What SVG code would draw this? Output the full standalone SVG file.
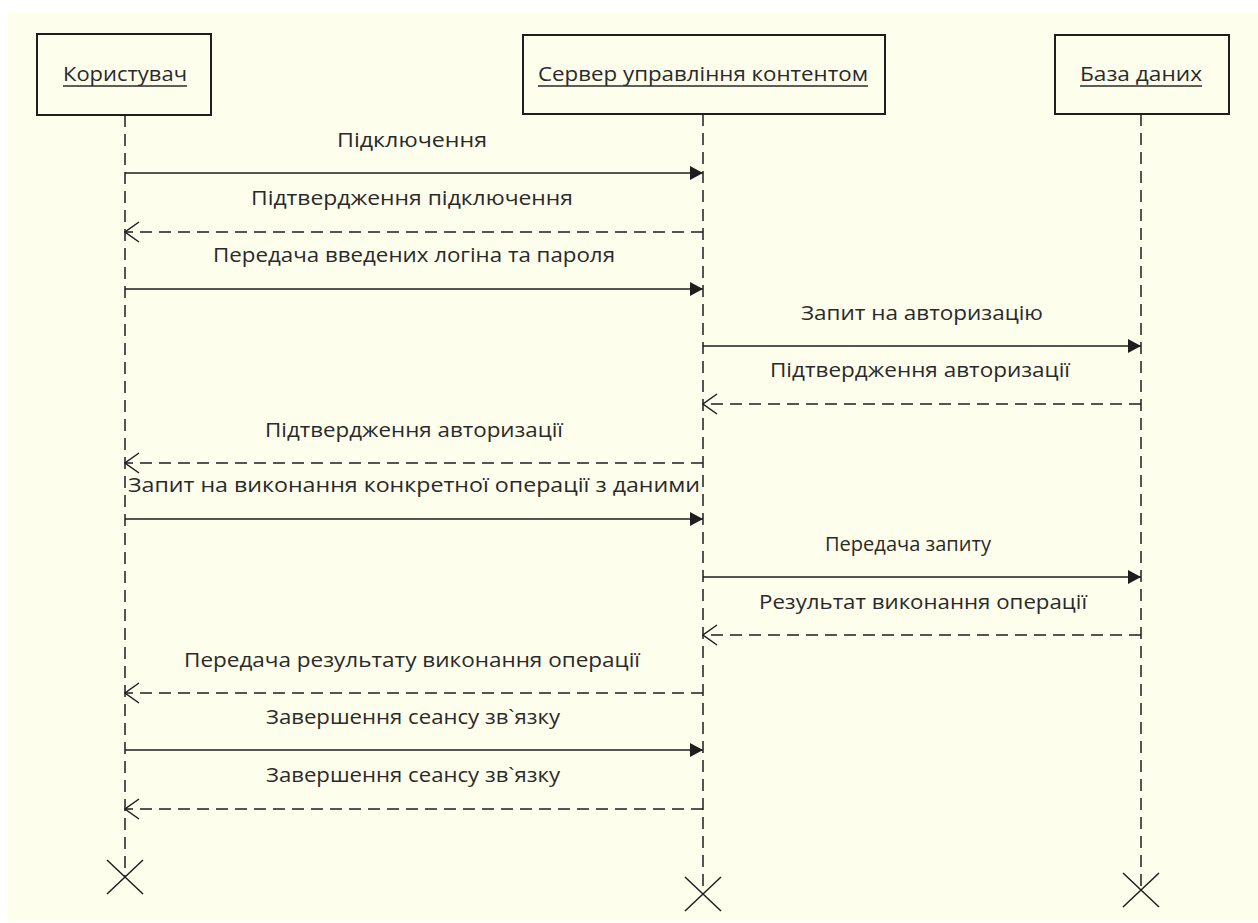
<svg xmlns="http://www.w3.org/2000/svg" width="1258" height="923" viewBox="0 0 1258 923">
  <style>
    .bg { fill: #fefeec; }
    .box { fill: #fefeec; stroke: #1e1e1e; stroke-width: 2; }
    .title { font-family: "Open Sans", "Noto Sans", sans-serif; font-size: 20px; fill: #2a2a2a; text-anchor: middle; }
    .uline { stroke: #2a2a2a; stroke-width: 1.5; }
    .life { stroke: #1e1e1e; stroke-width: 1.5; stroke-dasharray: 12 7; fill: none; }
    .msg { stroke: #1e1e1e; stroke-width: 1.5; fill: none; }
    .ret { stroke: #1e1e1e; stroke-width: 1.5; stroke-dasharray: 12 7; fill: none; }
    .lbl { font-family: "Open Sans", "Noto Sans", sans-serif; font-size: 20px; fill: #2a2a2a; text-anchor: middle; }
    .xmark { stroke: #1e1e1e; stroke-width: 1.5; fill: none; }
  </style>
  <defs>
    <marker id="solidHead" markerUnits="userSpaceOnUse" markerWidth="14" markerHeight="16" viewBox="0 0 14 16" refX="13" refY="8" orient="auto">
      <path d="M0,1 L13,8 L0,15 Z" fill="#1e1e1e"/>
    </marker>
    <marker id="openHead" markerUnits="userSpaceOnUse" markerWidth="16" markerHeight="24" viewBox="0 0 16 24" refX="15" refY="12" orient="auto">
      <path d="M1,2 L15,12 L1,22" fill="none" stroke="#1e1e1e" stroke-width="1.5"/>
    </marker>
  </defs>

  <rect x="0" y="0" width="1258" height="923" fill="#ffffff"/>
  <rect class="bg" x="8" y="12" width="1250" height="909"/>

  <!-- lifelines with their destruction marks -->
  <g id="user">
    <rect class="box" x="37" y="34" width="174" height="81"/>
    <text class="title" x="125" y="81" textLength="124" lengthAdjust="spacingAndGlyphs">Користувач</text>
    <line class="uline" x1="63" y1="86" x2="187" y2="86"/>
    <line class="life" x1="125" y1="115" x2="125" y2="877"/>
    <path class="xmark" d="M107,860 L143,894 M143,860 L107,894"/>
  </g>

  <g id="server">
    <rect class="box" x="523" y="35" width="362" height="79"/>
    <text class="title" x="703" y="81" textLength="330" lengthAdjust="spacingAndGlyphs">Сервер управління контентом</text>
    <line class="uline" x1="538" y1="86" x2="868" y2="86"/>
    <line class="life" x1="703" y1="114" x2="703" y2="894"/>
    <path class="xmark" d="M685,877 L721,911 M721,877 L685,911"/>
  </g>

  <g id="database">
    <rect class="box" x="1055" y="35" width="174" height="79"/>
    <text class="title" x="1141" y="81" textLength="122" lengthAdjust="spacingAndGlyphs">База даних</text>
    <line class="uline" x1="1080" y1="86" x2="1202" y2="86"/>
    <line class="life" x1="1141" y1="114" x2="1141" y2="890"/>
    <path class="xmark" d="M1123,873 L1159,907 M1159,873 L1123,907"/>
  </g>

  <!-- messages -->
  <g id="connectors">
    <line class="msg" x1="125" y1="173" x2="703" y2="173" marker-end="url(#solidHead)"/>
    <line class="ret" x1="703" y1="232" x2="125" y2="232" marker-end="url(#openHead)"/>
    <line class="msg" x1="125" y1="289" x2="703" y2="289" marker-end="url(#solidHead)"/>
    <line class="msg" x1="703" y1="346" x2="1141" y2="346" marker-end="url(#solidHead)"/>
    <line class="ret" x1="1141" y1="404" x2="703" y2="404" marker-end="url(#openHead)"/>
    <line class="ret" x1="703" y1="463" x2="125" y2="463" marker-end="url(#openHead)"/>
    <line class="msg" x1="125" y1="519" x2="703" y2="519" marker-end="url(#solidHead)"/>
    <line class="msg" x1="703" y1="577" x2="1141" y2="577" marker-end="url(#solidHead)"/>
    <line class="ret" x1="1141" y1="635" x2="703" y2="635" marker-end="url(#openHead)"/>
    <line class="ret" x1="703" y1="693" x2="125" y2="693" marker-end="url(#openHead)"/>
    <line class="msg" x1="125" y1="750" x2="703" y2="750" marker-end="url(#solidHead)"/>
    <line class="ret" x1="703" y1="809" x2="125" y2="809" marker-end="url(#openHead)"/>
  </g>

  <g id="labels">
    <text class="lbl" x="412" y="147" textLength="150" lengthAdjust="spacingAndGlyphs">Підключення</text>
    <text class="lbl" x="412" y="205" textLength="322" lengthAdjust="spacingAndGlyphs">Підтвердження підключення</text>
    <text class="lbl" x="414" y="262" textLength="402" lengthAdjust="spacingAndGlyphs">Передача введених логіна та пароля</text>
    <text class="lbl" x="922" y="320" textLength="242" lengthAdjust="spacingAndGlyphs">Запит на авторизацію</text>
    <text class="lbl" x="920" y="377" textLength="300" lengthAdjust="spacingAndGlyphs">Підтвердження авторизації</text>
    <text class="lbl" x="414" y="437" textLength="298" lengthAdjust="spacingAndGlyphs">Підтвердження авторизації</text>
    <text class="lbl" x="414" y="492" textLength="572" lengthAdjust="spacingAndGlyphs">Запит на виконання конкретної операції з даними</text>
    <text class="lbl" x="908" y="551" textLength="166" lengthAdjust="spacingAndGlyphs">Передача запиту</text>
    <text class="lbl" x="923" y="609" textLength="328" lengthAdjust="spacingAndGlyphs">Результат виконання операції</text>
    <text class="lbl" x="412" y="667" textLength="456" lengthAdjust="spacingAndGlyphs">Передача результату виконання операції</text>
    <text class="lbl" x="413" y="724" textLength="294" lengthAdjust="spacingAndGlyphs">Завершення сеансу зв`язку</text>
    <text class="lbl" x="413" y="782" textLength="294" lengthAdjust="spacingAndGlyphs">Завершення сеансу зв`язку</text>
  </g>
</svg>
